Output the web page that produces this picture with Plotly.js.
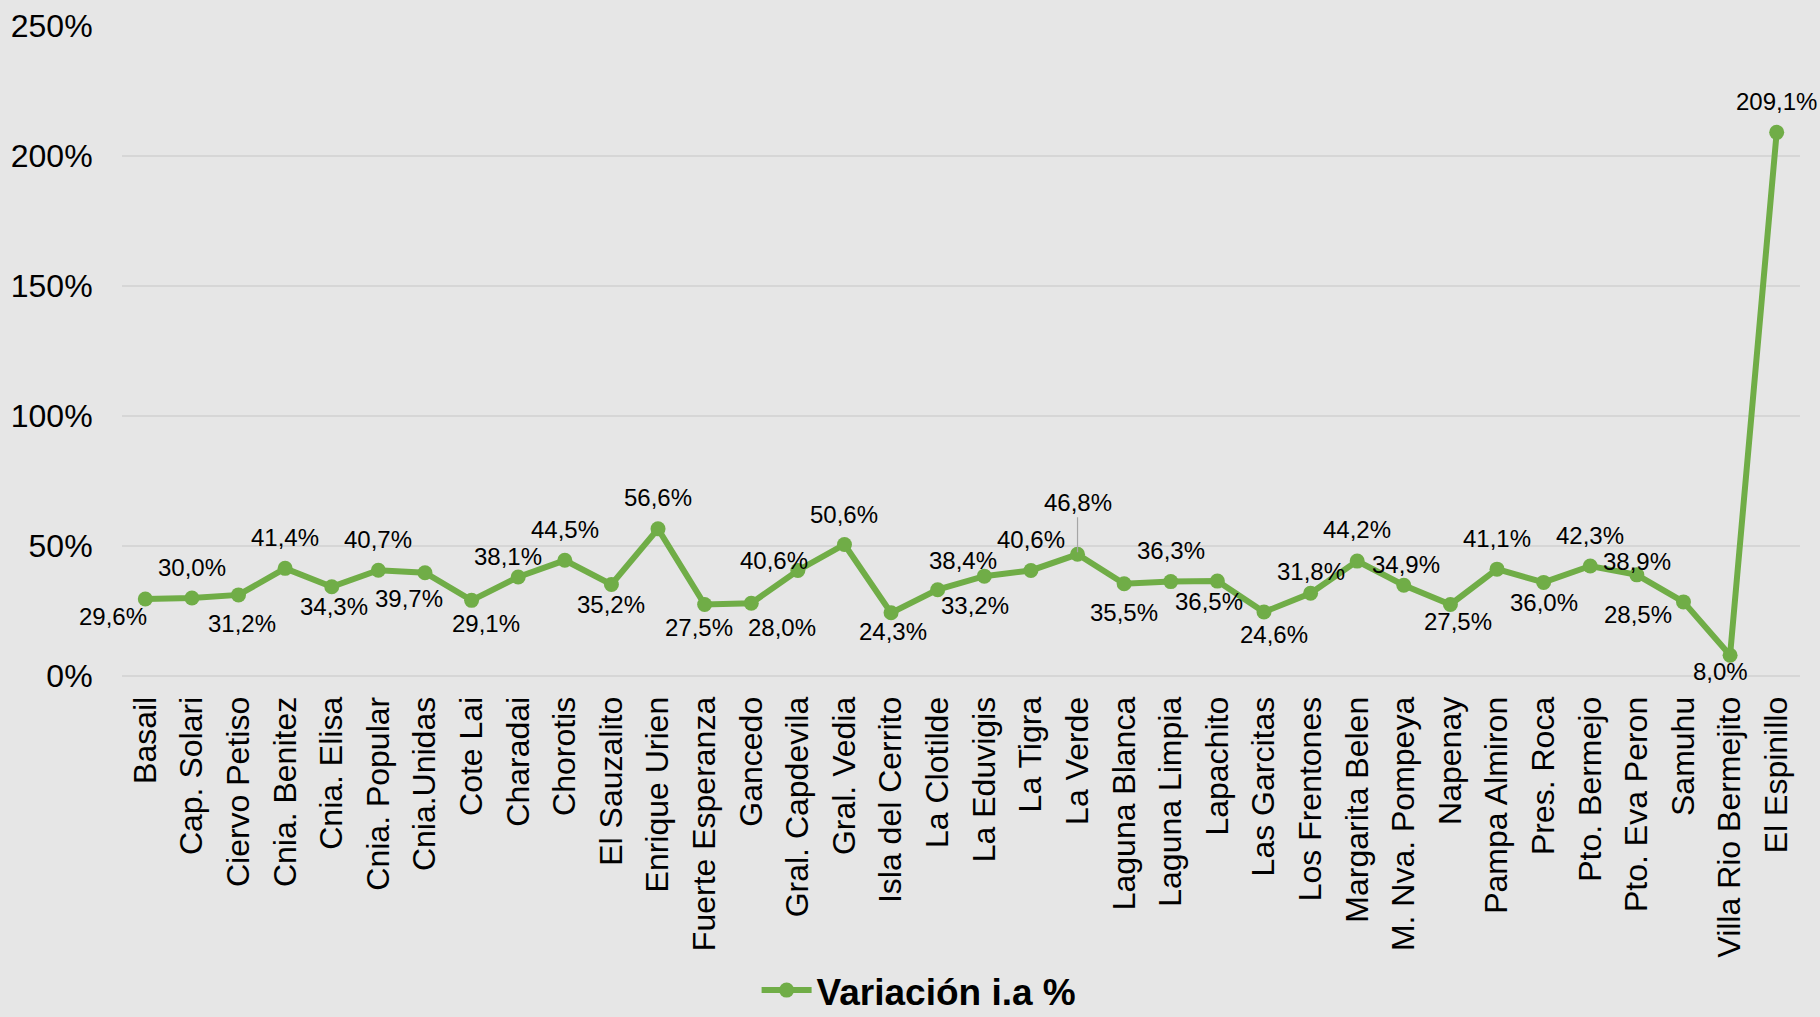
<!DOCTYPE html>
<html>
<head>
<meta charset="utf-8">
<script src="https://cdn.plot.ly/plotly-3.0.1.min.js"></script>
<style>html,body{margin:0;padding:0;background:#E6E6E6;}#chart{width:1820px;height:1017px;}</style>
</head>
<body>
<div id="chart"></div>
<script>
const categories = ["Basail","Cap. Solari","Ciervo Petiso","Cnia. Benitez","Cnia. Elisa","Cnia. Popular","Cnia.Unidas","Cote Lai","Charadai","Chorotis","El Sauzalito","Enrique Urien","Fuerte Esperanza","Gancedo","Gral. Capdevila","Gral. Vedia","Isla del Cerrito","La Clotilde","La Eduvigis","La Tigra","La Verde","Laguna Blanca","Laguna Limpia","Lapachito","Las Garcitas","Los Frentones","Margarita Belen","M. Nva. Pompeya","Napenay","Pampa Almiron","Pres. Roca","Pto. Bermejo","Pto. Eva Peron","Samuhu","Villa Rio Bermejito","El Espinillo"];
const variacion = [29.6,30.0,31.2,41.4,34.3,40.7,39.7,29.1,38.1,44.5,35.2,56.6,27.5,28.0,40.6,50.6,24.3,33.2,38.4,40.6,46.8,35.5,36.3,36.5,24.6,31.8,44.2,34.9,27.5,41.1,36.0,42.3,38.9,28.5,8.0,209.1];
const seriesName = "Variación i.a %";
const yTicks = [0,50,100,150,200,250];

// label offsets (px) relative to each point: [xshift, yshift]
const labelOffsets = [[-32,-17],[0,31],[3,-29],[0,31],[2,-20],[0,31],[-16,-26],[14,-23],[-10,20],[0,31],[0,-20],[0,31],[-6,-23],[31,-24],[-24,10],[0,30],[2,-19],[37,-16],[-21,16],[0,31],[0,52],[0,-29],[0,31],[-8,-20],[10,-22],[0,22],[0,32],[2,21],[8,-17],[0,31],[0,-20],[0,31],[0,13],[-45,-13],[-10,-16],[0,31]];

const green = "#70AD47";
const fmt = v => v.toFixed(1).replace('.', ',') + '%';

const annotations = variacion.map((v, i) => {
  const off = labelOffsets[i];
  if (i === 20) {
    return {x: categories[i], y: v, xref: 'x', yref: 'y', text: fmt(v), showarrow: true,
      arrowhead: 0, arrowwidth: 1.2, arrowcolor: '#A6A6A6', ax: 0, ay: -off[1], standoff: 2,
      font: {family: 'Liberation Sans, Arial', size: 24, color: '#000'}};
  }
  return {x: categories[i], y: v, xref: 'x', yref: 'y', text: fmt(v), showarrow: false,
    xshift: off[0], yshift: off[1], xanchor: 'center', yanchor: 'middle',
    font: {family: 'Liberation Sans, Arial', size: 24, color: '#000'}};
});

const trace = {
  x: categories, y: variacion, type: 'scatter', mode: 'lines+markers', name: seriesName,
  line: {color: green, width: 6}, marker: {color: green, size: 15}, cliponaxis: false
};

const layout = {
  width: 1820, height: 1017,
  paper_bgcolor: '#E6E6E6', plot_bgcolor: '#E6E6E6',
  margin: {l: 122, r: 20, t: 26, b: 341},
  font: {family: 'Liberation Sans, Arial', color: '#000'},
  xaxis: {type: 'category', tickangle: -90, showgrid: false, zeroline: false, showline: false,
    ticks: 'outside', ticklen: 7, tickcolor: 'rgba(0,0,0,0)',
    tickfont: {size: 32, color: '#000'}, range: [-0.5, categories.length - 0.5]},
  yaxis: {range: [0, 250], tickvals: yTicks, ticktext: yTicks.map(t => t + '%'),
    showgrid: true, gridcolor: '#D6D6D6', gridwidth: 2, zeroline: true, zerolinecolor: '#D6D6D6', zerolinewidth: 2,
    showline: false, ticks: 'outside', ticklen: 22, tickcolor: 'rgba(0,0,0,0)',
    tickfont: {size: 32, color: '#000'}},
  showlegend: true,
  legend: {orientation: 'h', xref: 'container', yref: 'container', x: 0.505, xanchor: 'center',
    y: 0.026, yanchor: 'middle', font: {size: 37, color: '#000', family: 'Liberation Sans, Arial', weight: 'bold'},
    bgcolor: 'rgba(0,0,0,0)', itemwidth: 50},
  annotations: annotations
};

Plotly.newPlot('chart', [trace], layout, {displayModeBar: false, staticPlot: true});
</script>
</body>
</html>
